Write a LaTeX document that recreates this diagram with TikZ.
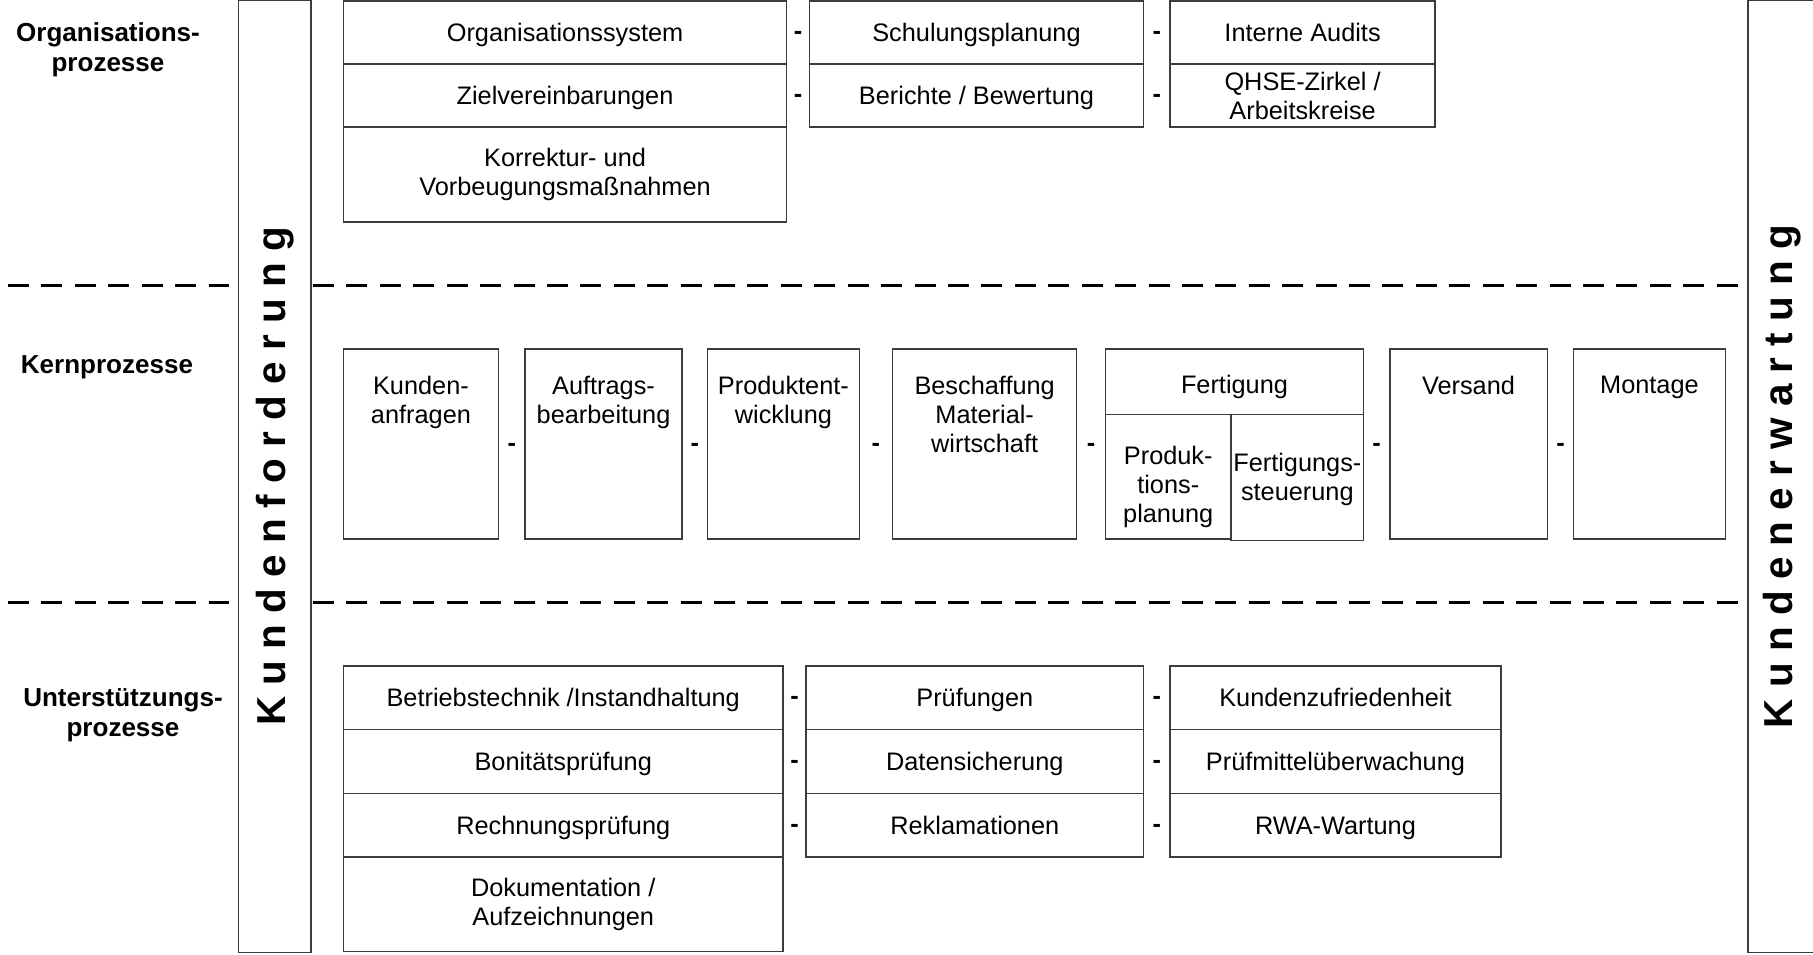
\documentclass[tikz,border=0pt]{standalone}
\usepackage{fontspec}
\setmainfont{Liberation Sans}
\usetikzlibrary{calc,positioning}
\definecolor{rahmengrau}{RGB}{60,60,60}
\tikzset{
    % Kasten fuer einen Einzelprozess
    prozess/.style={
        draw=rahmengrau, line width=0.4pt, fill=white,
        inner sep=0pt, outer sep=0pt, align=center,
        font=\fontsize{7.2}{8.3}\selectfont
    },
    % einzeilige Kaesten: feste Texthoehe
    zeile/.style={prozess, minimum height=0.636cm,
        text height=0.19cm, text depth=0.01cm},
    % Kernprozess: Text oben im Kasten
    kernbox/.style={prozess, anchor=north west, minimum height=1.90cm},
    kerntext/.style={anchor=north, yshift=-0.26cm, inner sep=0pt,
        align=center, font=\fontsize{7.2}{8.3}\selectfont},
    mittext/.style={anchor=center, inner sep=0pt,
        align=center, font=\fontsize{7.2}{8.3}\selectfont},
    % Trennstrich zwischen den Spalten
    strich/.style={inner sep=0pt, yshift=-0.03cm,
        font=\fontsize{7.2}{8.3}\selectfont\bfseries},
    % Ebenen links
    ebene/.style={align=center, inner sep=0pt,
        font=\fontsize{7.4}{8.5}\selectfont\bfseries},
    % senkrechte Balken Kunde
    kunde/.style={draw=rahmengrau, line width=0.4pt, rotate=90,
        inner sep=0pt, outer sep=0pt, minimum width=9.51cm,
        font=\fontsize{11.5}{13}\selectfont\bfseries},
    trennlinie/.style={line width=0.7pt, dash pattern=on 0.21cm off 0.124cm},
}
\begin{document}
\begin{tikzpicture}[x=0.01cm,y=-0.01cm]
\useasboundingbox (0,0) rectangle (1813,954);

% Kundenbalken
\node[kunde, minimum height=0.723cm] (kf) at (274.8,476.5) {K u n d e n f o r d e r u n g};
\node[kunde, minimum height=0.68cm] (ke) at (1782,476.5) {K u n d e n e r w a r t u n g};

% Ebenengrenzen
\draw[trennlinie] (8,285.5) -- (229,285.5);
\draw[trennlinie] (313,285.5) -- (1746,285.5);
\draw[trennlinie] (8,602.5) -- (229,602.5);
\draw[trennlinie] (313,602.5) -- (1746,602.5);

% Ebenen
\node[ebene] (l-org) at (108,49.5) {Organisations-\\prozesse};
\node[ebene] (l-kern) at (107,367.5) {Kernprozesse};
\node[ebene] (l-unt) at (123,715.5) {Unterstützungs-\\prozesse};

% Organisationsprozesse
\node[zeile, anchor=north west, minimum width=4.43cm, minimum height=0.63cm] (os) at (343.4,1) {Organisationssystem};
\node[zeile, below=0pt of os, minimum width=4.43cm, minimum height=0.63cm] (zv) {Zielvereinbarungen};
\node[prozess, below=0pt of zv, minimum width=4.43cm, minimum height=0.95cm] (kv) {Korrektur- und\\Vorbeugungsmaßnahmen};
\node[zeile, anchor=north west, minimum width=3.34cm, minimum height=0.63cm] (sp) at (809.4,1) {Schulungsplanung};
\node[zeile, below=0pt of sp, minimum width=3.34cm, minimum height=0.63cm] (bb) {Berichte / Bewertung};
\node[zeile, anchor=north west, minimum width=2.65cm, minimum height=0.63cm] (ia) at (1170,1) {Interne Audits};
\node[prozess, below=0pt of ia, minimum width=2.65cm, minimum height=0.63cm] (qz) {QHSE-Zirkel /\\Arbeitskreise};
\node[strich] (s1) at ($(os.east)!.5!(sp.west)$) {-};
\node[strich] (s2) at ($(zv.east)!.5!(bb.west)$) {-};
\node[strich] (s3) at ($(sp.east)!.5!(ia.west)$) {-};
\node[strich] (s4) at ($(bb.east)!.5!(qz.west)$) {-};

% Kernprozesse
\node[kernbox, minimum width=1.55cm, label={[kerntext]north:{Kunden-\\anfragen}}] (ka) at (343.4,349) {};
\node[kernbox, minimum width=1.57cm, label={[kerntext]north:{Auftrags-\\bearbeitung}}] (ab) at (525,349) {};
\node[kernbox, minimum width=1.515cm, label={[kerntext]north:{Produktent-\\wicklung}}] (pe) at (707.6,349) {};
\node[kernbox, minimum width=1.84cm, label={[kerntext]north:{Beschaffung\\Material-\\wirtschaft}}] (bm) at (892.6,349) {};
\node[prozess, anchor=north west, minimum width=2.58cm, minimum height=0.655cm,
      text height=0.24cm, text depth=0cm] (fe) at (1105.4,349) {Fertigung};
\node[prozess, anchor=north west, minimum width=1.256cm, minimum height=1.245cm,
      label={[mittext, yshift=-0.1cm]center:{Produk-\\tions-\\planung}}] (fp) at (fe.south west) {};
\node[prozess, anchor=north west, minimum width=1.324cm, minimum height=1.26cm,
      label={[mittext, yshift=-0.02cm]center:{Fertigungs-\\steuerung}}] (fs) at (fp.north east) {};
\node[kernbox, minimum width=1.573cm, label={[kerntext]north:Versand}] (vs) at (1389.8,349) {};
\node[kernbox, minimum width=1.514cm, label={[kerntext]north:Montage}] (mo) at (1573.7,349) {};
\node[strich] (s5) at ($(ka.east)!.5!(ab.west)$) {-};
\node[strich] (s6) at ($(ab.east)!.5!(pe.west)$) {-};
\node[strich] (s7) at ($(pe.east)!.5!(bm.west)$) {-};
\node[strich] (s8) at ($(bm.east)!.5!(fe.west |- bm.east)$) {-};
\node[strich] (s9) at ($(fs.east |- vs.west)!.5!(vs.west)$) {-};
\node[strich] (s10) at ($(vs.east)!.5!(mo.west)$) {-};

% Unterstuetzungsprozesse
\node[zeile, anchor=north west, minimum width=4.394cm] (bt) at (343.4,666) {Betriebstechnik /Instandhaltung};
\node[zeile, below=0pt of bt, minimum width=4.394cm] (bp) {Bonitätsprüfung};
\node[zeile, below=0pt of bp, minimum width=4.394cm] (rp) {Rechnungsprüfung};
\node[prozess, below=0pt of rp, minimum width=4.394cm, minimum height=0.948cm] (da) {Dokumentation /\\Aufzeichnungen};
\node[zeile, anchor=north west, minimum width=3.376cm] (pr) at (805.9,666) {Prüfungen};
\node[zeile, below=0pt of pr, minimum width=3.376cm] (ds) {Datensicherung};
\node[zeile, below=0pt of ds, minimum width=3.376cm] (rk) {Reklamationen};
\node[zeile, anchor=north west, minimum width=3.307cm] (kz) at (1170,666) {Kundenzufriedenheit};
\node[zeile, below=0pt of kz, minimum width=3.307cm] (pm) {Prüfmittelüberwachung};
\node[zeile, below=0pt of pm, minimum width=3.307cm] (rw) {RWA-Wartung};
\node[strich] (s11) at ($(bt.east)!.5!(pr.west)$) {-};
\node[strich] (s12) at ($(bp.east)!.5!(ds.west)$) {-};
\node[strich] (s13) at ($(rp.east)!.5!(rk.west)$) {-};
\node[strich] (s14) at ($(pr.east)!.5!(kz.west)$) {-};
\node[strich] (s15) at ($(ds.east)!.5!(pm.west)$) {-};
\node[strich] (s16) at ($(rk.east)!.5!(rw.west)$) {-};
\end{tikzpicture}
\end{document}
